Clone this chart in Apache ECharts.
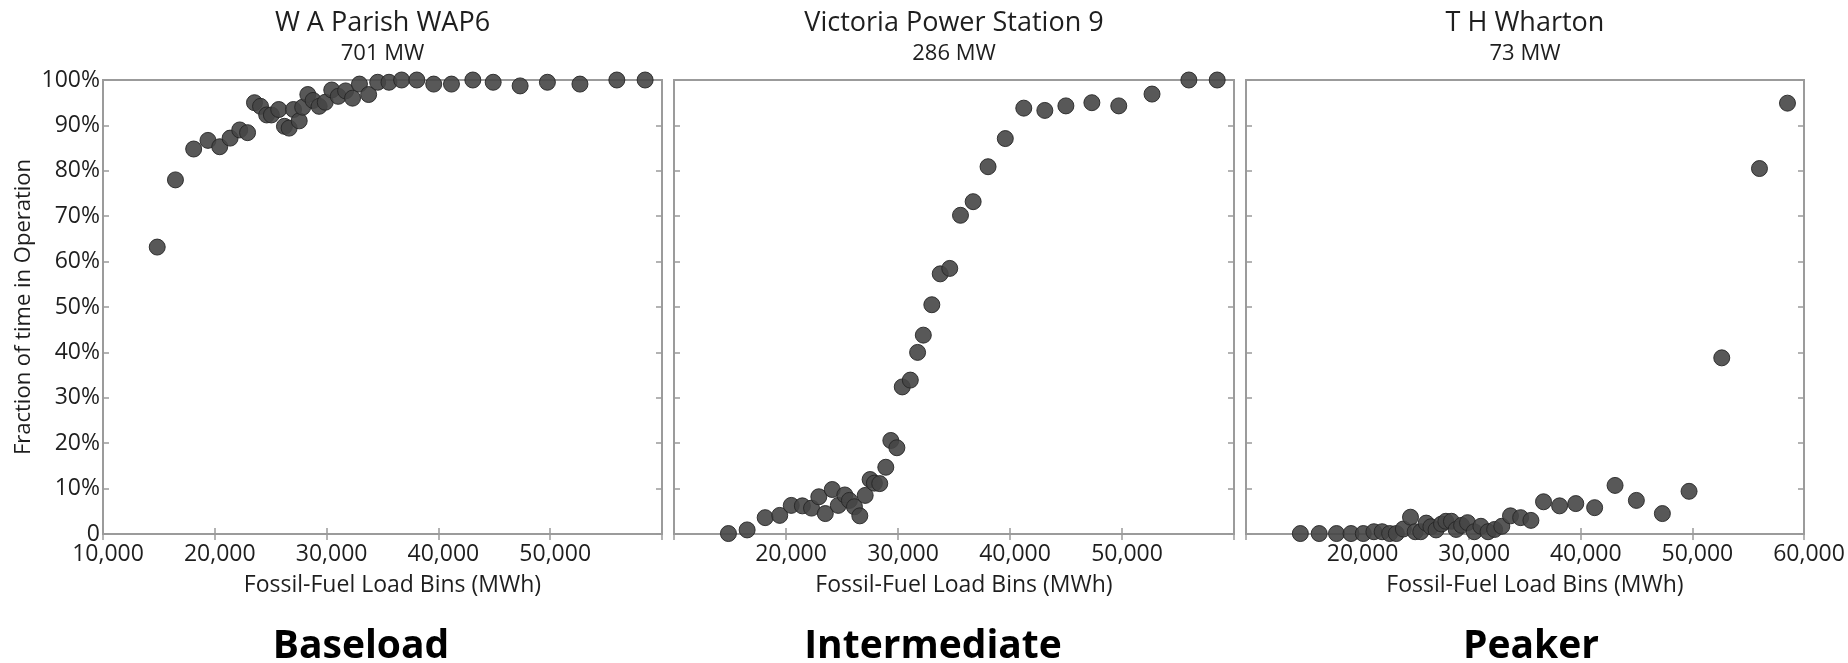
<!DOCTYPE html>
<html>
<head>
<meta charset="utf-8">
<title>Fraction of time in Operation</title>
<script src="https://cdn.jsdelivr.net/npm/echarts@6/dist/echarts.min.js"></script>
<style>
  html, body { margin: 0; padding: 0; background: #fff; }
  #chart { width: 1848px; height: 663px; }
</style>
</head>
<body>
<div id="chart"></div>
<script>
  // values (load bin in MWh, fraction in %)
  const parishLoad = [14850, 16480, 18110, 19390, 20440, 21370, 22230, 22930, 23550, 24090,
    24640, 25060, 25720, 26230, 26650, 27040, 27550, 27860, 28320, 28790,
    29330, 29880, 30460, 31040, 31700, 32320, 32940, 33760, 34570, 35580,
    36710, 38070, 39580, 41170, 43080, 44900, 47310, 49750, 52660, 55960, 58490]
  const parishFraction = [63.2, 78.0, 84.8, 86.7, 85.3, 87.2, 89.0, 88.4, 95.0, 94.2,
    92.3, 92.3, 93.5, 89.8, 89.4, 93.5, 91.0, 94.0, 96.8, 95.5,
    94.2, 95.1, 97.8, 96.4, 97.6, 96.0, 99.1, 96.8, 99.5, 99.5,
    100, 100, 99.1, 99.1, 100, 99.5, 98.7, 99.5, 99.1, 100, 100]

  const victoriaLoad = [14860, 16530, 18140, 19440, 20470, 21460, 22280, 22930, 23510, 24130,
    24670, 25250, 25660, 26110, 26590, 27070, 27510, 27890, 28370, 28910,
    29360, 29900, 30380, 31100, 31750, 32260, 33020, 33770, 34620, 35580,
    36710, 38040, 39580, 41230, 43110, 44990, 47310, 49710, 52680, 55970, 58500]
  const victoriaFraction = [0.1, 0.9, 3.6, 4.1, 6.3, 6.2, 5.7, 8.2, 4.5, 9.8,
    6.3, 8.6, 7.4, 6.0, 4.0, 8.5, 12.0, 11.2, 11.1, 14.7,
    20.6, 19.0, 32.4, 33.9, 40.0, 43.8, 50.5, 57.3, 58.5, 70.2,
    73.2, 80.9, 87.1, 93.8, 93.3, 94.3, 95.0, 94.3, 96.9, 100, 100]

  const whartonLoad = [14870, 16560, 18110, 19410, 20510, 21460, 22200, 22870, 23470, 24100,
    24740, 25160, 25660, 26150, 26570, 27030, 27520, 27910, 28410, 28830,
    29320, 29850, 30450, 31050, 31690, 32280, 32920, 33700, 34610, 35530,
    36660, 38100, 39550, 41240, 43070, 44980, 47310, 49700, 52630, 56010, 58520]
  const whartonFraction = [0.1, 0.1, 0.1, 0.1, 0.1, 0.5, 0.5, 0.1, 0.1, 1.1,
    3.7, 0.5, 0.5, 2.4, 1.6, 0.9, 2.2, 2.8, 2.8, 1.0,
    1.9, 2.5, 0.5, 1.7, 0.5, 1.0, 1.7, 4.0, 3.6, 3.0,
    7.1, 6.2, 6.7, 5.8, 10.7, 7.4, 4.5, 9.4, 38.8, 80.5, 94.9]

  const plantNames = ['W A Parish WAP6', 'Victoria Power Station 9', 'T H Wharton']
  const plantCapacity = ['701 MW', '286 MW', '73 MW']
  const plantRoles = ['Baseload', 'Intermediate', 'Peaker']

  // x tick labels that are printed under each panel
  const parishTicks = [10000, 20000, 30000, 40000, 50000]
  const victoriaTicks = [20000, 30000, 40000, 50000]
  const whartonTicks = [20000, 30000, 40000, 50000, 60000]

  const loads = [parishLoad, victoriaLoad, whartonLoad]
  const fractions = [parishFraction, victoriaFraction, whartonFraction]
  const shownTicks = [parishTicks, victoriaTicks, whartonTicks]

  const panels = [
    { left: 103, width: 559 },
    { left: 674, width: 560 },
    { left: 1246, width: 558 }
  ]
  const roleX = [361, 933, 1531]

  const font = '"Open Sans", "Noto Sans", sans-serif'
  const frame = '#9b9b9b'
  const ink = '#1e1e1e'

  const chart = echarts.init(document.getElementById('chart'))

  function withCommas(v) {
    return String(v).replace(/\B(?=(\d{3})+(?!\d))/g, ',')
  }

  const grid = []
  const xAxis = []
  const yAxis = []
  const series = []
  const graphic = []

  panels.forEach((p, i) => {
    grid.push({
      left: p.left,
      width: p.width,
      top: 80,
      height: 454,
      show: true,
      borderColor: frame,
      borderWidth: 2,
      backgroundColor: '#fff'
    })

    const tick = { show: true, inside: true, length: 6, lineStyle: { color: frame, width: 1.5 } }

    xAxis.push({
      type: 'value',
      gridIndex: i,
      position: 'bottom',
      min: 10000,
      max: 60000,
      interval: 10000,
      axisLine: { show: false },
      axisTick: tick,
      splitLine: { show: false },
      axisLabel: {
        margin: 9,
        padding: [0, 0, 0, 10],
        fontFamily: font,
        fontSize: 23,
        color: ink,
        formatter: v => shownTicks[i].includes(v) ? withCommas(v) : ''
      },
      name: 'Fossil-Fuel Load Bins (MWh)',
      nameLocation: 'middle',
      nameGap: 40,
      nameTextStyle: { fontFamily: font, fontSize: 23, color: ink, padding: [0, 0, 0, 20] }
    })
    xAxis.push({
      type: 'value',
      gridIndex: i,
      position: 'top',
      min: 10000,
      max: 60000,
      interval: 10000,
      axisLine: { show: false },
      axisTick: tick,
      axisLabel: { show: false },
      splitLine: { show: false }
    })

    yAxis.push({
      type: 'value',
      gridIndex: i,
      position: 'left',
      min: 0,
      max: 100,
      interval: 10,
      axisLine: { show: false },
      axisTick: tick,
      splitLine: { show: false },
      axisLabel: {
        show: i === 0,
        margin: 3,
        fontFamily: font,
        fontSize: 23,
        color: ink,
        formatter: v => v === 0 ? '0' : v + '%'
      },
      name: i === 0 ? 'Fraction of time in Operation' : '',
      nameLocation: 'middle',
      nameGap: 68,
      nameTextStyle: { fontFamily: font, fontSize: 22, color: ink }
    })
    yAxis.push({
      type: 'value',
      gridIndex: i,
      position: 'right',
      min: 0,
      max: 100,
      interval: 10,
      axisLine: { show: false },
      axisTick: tick,
      axisLabel: { show: false },
      splitLine: { show: false }
    })

    series.push({
      type: 'scatter',
      xAxisIndex: 2 * i,
      yAxisIndex: 2 * i,
      data: loads[i].map((x, k) => [x, fractions[i][k]]),
      symbolSize: 16,
      clip: false,
      silent: true,
      itemStyle: {
        color: '#464646',
        borderColor: '#262626',
        borderWidth: 1,
        opacity: 0.9
      }
    })

    const cx = p.left + p.width / 2
    graphic.push({
      type: 'text',
      x: cx,
      y: 23,
      style: { text: plantNames[i], align: 'center', verticalAlign: 'middle', fontFamily: font, fontSize: 27, fill: ink }
    })
    graphic.push({
      type: 'text',
      x: cx,
      y: 54,
      style: { text: plantCapacity[i], align: 'center', verticalAlign: 'middle', fontFamily: font, fontSize: 22, fill: ink }
    })
    graphic.push({
      type: 'text',
      x: roleX[i],
      y: 647,
      style: { text: plantRoles[i], align: 'center', verticalAlign: 'middle', fontFamily: font, fontSize: 39, fontWeight: 'bold', fill: '#000' }
    })
  })

  chart.setOption({
    animation: false,
    backgroundColor: '#fff',
    grid: grid,
    xAxis: xAxis,
    yAxis: yAxis,
    series: series,
    graphic: graphic
  })
</script>
</body>
</html>
